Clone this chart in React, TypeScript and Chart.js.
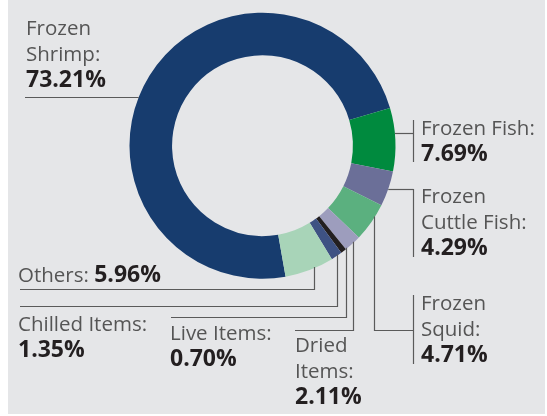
import React, { useEffect, useRef } from "react";
import { Chart, registerables } from "chart.js";

Chart.register(...registerables);

const categories = [
  "Frozen Shrimp",
  "Frozen Fish",
  "Frozen Cuttle Fish",
  "Frozen Squid",
  "Dried Items",
  "Live Items",
  "Chilled Items",
  "Others",
];
const shares = [73.21, 7.69, 4.29, 4.71, 2.11, 0.7, 1.35, 5.96];
const displayLabels = [
  "Frozen\nShrimp:",
  "Frozen Fish:",
  "Frozen\nCuttle Fish:",
  "Frozen\nSquid:",
  "Dried\nItems:",
  "Live Items:",
  "Chilled Items:",
  "Others: ",
];
const colors = [
  "#173c6e",
  "#008a3e",
  "#6b6f98",
  "#5bb07f",
  "#9d9dbd",
  "#231f20",
  "#3e5283",
  "#a8d4b8",
];

const FONT = "'Open Sans', sans-serif";
const FS = 20.5;
const FSB = 23;
const LH = 26;

type Layout = {
  x: number;
  y: number;
  inline?: boolean;
  kind: "h" | "v";
  hy?: number;
  side?: "left" | "right";
  dx?: number;
  endX: number;
  bar?: [number, number, number];
};

const layouts: Layout[] = [
  { x: 26, y: 35, kind: "h", hy: 97, side: "left", endX: 25 },
  { x: 421, y: 135, kind: "h", hy: 133, side: "right", endX: 413.5, bar: [413.5, 120, 162] },
  { x: 421, y: 203, kind: "h", hy: 189, side: "right", endX: 413.5, bar: [413.5, 189, 257] },
  { x: 421, y: 310, kind: "v", hy: 330.5, dx: 3, endX: 413.5, bar: [413.5, 295, 364] },
  { x: 295, y: 352, kind: "v", hy: 330.5, dx: 0, endX: 295 },
  { x: 170, y: 340, kind: "v", hy: 317.5, dx: 2.5, endX: 171 },
  { x: 18, y: 331, kind: "v", hy: 306.5, dx: 0, endX: 20 },
  { x: 18, y: 282, inline: true, kind: "v", hy: 289.5, dx: 4, endX: 20 },
];

const bgPlugin = {
  id: "bgRect",
  beforeDraw(chart: any) {
    const ctx = chart.ctx;
    ctx.save();
    ctx.fillStyle = "#ffffff";
    ctx.fillRect(0, 0, chart.width, chart.height);
    ctx.fillStyle = "#e5e6e8";
    ctx.fillRect(8, 0, 537, 414);
    ctx.restore();
  },
};

const labelPlugin = {
  id: "leaderLabels",
  afterDatasetsDraw(chart: any) {
    const ctx = chart.ctx;
    const meta = chart.getDatasetMeta(0);
    ctx.save();
    ctx.strokeStyle = "#5a5a5a";
    ctx.lineWidth = 1.2;
    meta.data.forEach((arc: any, i: number) => {
      const L = layouts[i];
      const { x: cx, y: cy, startAngle, endAngle, outerRadius: R } = arc.getProps(
        ["x", "y", "startAngle", "endAngle", "outerRadius"],
        true
      );
      ctx.beginPath();
      if (L.kind === "h") {
        const y0 = L.hy as number;
        const off = Math.sqrt(Math.max(R * R - (y0 - cy) * (y0 - cy), 0));
        const x0 = L.side === "left" ? cx - off : cx + off;
        ctx.moveTo(x0, y0 + 0.5);
        ctx.lineTo(L.endX, y0 + 0.5);
      } else {
        const mid = (startAngle + endAngle) / 2;
        const x0 = Math.round(cx + R * Math.cos(mid) + (L.dx || 0)) + 0.5;
        const ddx = x0 - cx;
        const y0 = cy + Math.sqrt(Math.max(R * R - ddx * ddx, 0)) - 1;
        ctx.moveTo(x0, y0);
        ctx.lineTo(x0, L.hy as number);
        ctx.lineTo(L.endX, L.hy as number);
      }
      ctx.stroke();
      if (L.bar) {
        ctx.beginPath();
        ctx.moveTo(L.bar[0], L.bar[1]);
        ctx.lineTo(L.bar[0], L.bar[2]);
        ctx.stroke();
      }

      const lines = displayLabels[i].split("\n");
      const valueText = shares[i].toFixed(2) + "%";
      ctx.textBaseline = "alphabetic";
      ctx.textAlign = "left";
      let y = L.y;
      if (L.inline) {
        ctx.font = `400 ${FS}px ${FONT}`;
        ctx.fillStyle = "#555555";
        ctx.fillText(lines[0], L.x, y);
        const w = ctx.measureText(lines[0]).width;
        ctx.font = `700 ${FSB}px ${FONT}`;
        ctx.fillStyle = "#231f20";
        ctx.fillText(valueText, L.x + w, y);
      } else {
        ctx.font = `400 ${FS}px ${FONT}`;
        ctx.fillStyle = "#555555";
        lines.forEach((ln) => {
          ctx.fillText(ln, L.x, y);
          y += LH;
        });
        ctx.font = `700 ${FSB}px ${FONT}`;
        ctx.fillStyle = "#231f20";
        ctx.fillText(valueText, L.x, y);
      }
    });
    ctx.restore();
  },
};

export default function App() {
  const ref = useRef<HTMLCanvasElement | null>(null);
  useEffect(() => {
    if (!ref.current) return;
    const chart = new Chart(ref.current, {
      type: "doughnut",
      data: {
        labels: categories,
        datasets: [
          {
            data: shares,
            backgroundColor: colors,
            borderWidth: 0,
          },
        ],
      },
      options: {
        animation: false,
        responsive: false,
        maintainAspectRatio: false,
        rotation: 170,
        cutout: "68%",
        layout: {
          padding: { left: 129.5, right: 151.5, top: 12.7, bottom: 137.3 },
        },
        plugins: {
          legend: { display: false },
          tooltip: { enabled: false },
        },
      },
      plugins: [bgPlugin, labelPlugin],
    });
    return () => chart.destroy();
  }, []);
  return (
    <div style={{ position: "fixed", left: 0, top: 0, width: 547, height: 416 }}>
      <canvas ref={ref} width={547} height={416} style={{ display: "block" }} />
    </div>
  );
}
